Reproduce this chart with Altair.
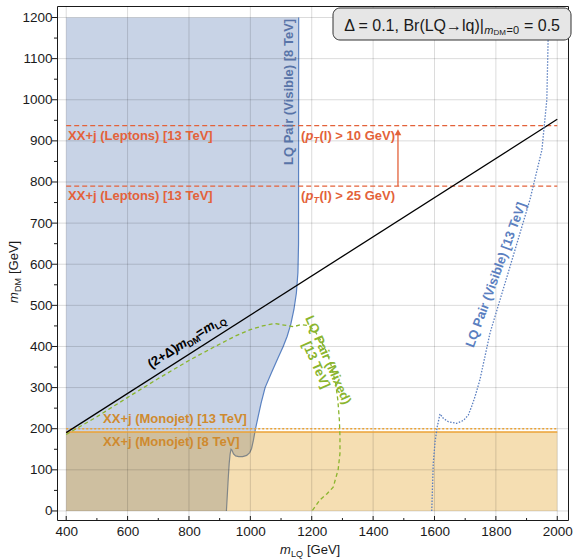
import altair as alt
import pandas as pd

FONT = "Liberation Sans"
XDOM = [370, 2035]
YDOM = [-22, 1228]
W, H = 511, 514

# ---------------- data ----------------
x_labels = [400, 600, 800, 1000, 1200, 1400, 1600, 1800, 2000]
y_labels = [0, 100, 200, 300, 400, 500, 600, 700, 800, 900, 1000, 1100, 1200]
x_minor = [500, 700, 900, 1100, 1300, 1500, 1700, 1900]
y_minor = [50, 150, 250, 350, 450, 550, 650, 750, 850, 950, 1050, 1150]

# LQ pair (visible) 8 TeV exclusion boundary
lq8_x = [922, 925, 928, 931, 934, 937, 940, 945, 952, 962, 975, 988, 998, 1004, 1010,
         1016, 1025, 1035, 1048, 1068, 1090, 1107, 1120, 1132, 1142, 1150, 1155, 1157, 1157.5]
lq8_y = [0, 40, 80, 115, 138, 150, 148, 139, 134, 132, 132, 135, 142, 152, 172,
         197, 228, 262, 300, 335, 372, 400, 425, 455, 490, 530, 580, 650, 1200]
lq8_top = 1200
lq8_left = 400

# Monojet
mono_x = [400, 2000]
mono8_y = 192
mono13_y = 200

# Leptons
lep_x = [400, 2000]
lep_y = [937, 790]
arrow_x = 1481
arrow_y = [790, 921]

# (2+Delta) m_DM = m_LQ
diag_x = [400, 2000]
diag_y = [190.5, 952.4]

# LQ pair (mixed) 13 TeV
mix_x = [400, 500, 600, 700, 800, 880, 950, 1000, 1040, 1080, 1110, 1140, 1165, 1190, 1210,
         1230, 1250, 1265, 1278, 1285, 1290, 1292, 1292, 1286, 1270, 1250, 1227, 1201]
mix_y = [186, 229, 276, 322, 366, 398, 425, 441, 450, 456, 452, 448, 453, 451, 438,
         414, 384, 350, 310, 270, 222, 180, 140, 100, 58, 42, 27, 0]

# LQ pair (visible) 13 TeV
vis_x = [1591, 1596, 1602, 1609, 1618, 1629, 1645, 1672, 1694, 1710, 1721, 1732, 1748,
         1781, 1846, 1911, 1950, 1966, 1970, 1972]
vis_y = [0, 116, 169, 205, 236, 225, 217, 213, 220, 233, 254, 278, 319,
         433, 594, 757, 878, 1000, 1139, 1200]

# ---------------- colours ----------------
C_BLUE_FILL = "#c8d3e6"
C_BLUE_LINE = "#5a82c2"
C_ORANGE = "#de9100"
C_ORANGE_LINE = "#eba234"
C_RED = "#e3623a"
C_GREEN = "#8ab52e"
C_VIS13 = "#5b7fc0"
C_TEXT_BLUE = "#5874a8"
C_MONO_TEXT = "#cf8a2e"
C_AX = "#1a1a1a"

xs = alt.Scale(domain=XDOM, nice=False, zero=False)
ys = alt.Scale(domain=YDOM, nice=False, zero=False)

AX_X = alt.Axis(values=x_labels, format="d", labelFont=FONT, labelFontSize=13.5,
                labelColor=C_AX, ticks=False, domain=False, grid=False, labelPadding=4,
                labelFlush=False, title="")
AX_Y = alt.Axis(values=y_labels, format="d", labelFont=FONT, labelFontSize=13.5,
                labelColor=C_AX, ticks=False, domain=False, grid=False, labelPadding=5,
                labelFlush=False, title="")


def X(f="x"):
    return alt.X(f"{f}:Q", scale=xs, axis=AX_X, title="")


def Y(f="y"):
    return alt.Y(f"{f}:Q", scale=ys, axis=AX_Y, title="", stack=False)


def label(x, y, s, color, size=13, bold=True, italic=False, angle=0,
          align="left", baseline="alphabetic", dx=0, dy=0):
    df = pd.DataFrame({"x": [x], "y": [y], "t": [s]})
    return alt.Chart(df).mark_text(
        font=FONT, fontSize=size, color=color, align=align, baseline=baseline,
        dx=dx, dy=dy, angle=angle,
        fontWeight="bold" if bold else "normal",
        fontStyle="italic" if italic else "normal",
    ).encode(x=X(), y=Y(), text="t:N")


def plabel(px, py, s, color=C_AX, size=13, bold=False, italic=False, angle=0,
           align="left", baseline="alphabetic", dx=0, dy=0):
    df = pd.DataFrame({"t": [s]})
    return alt.Chart(df).mark_text(
        font=FONT, fontSize=size, color=color, align=align, baseline=baseline,
        dx=dx, dy=dy, angle=angle,
        fontWeight="bold" if bold else "normal",
        fontStyle="italic" if italic else "normal",
    ).encode(x=alt.value(px), y=alt.value(py), text="t:N")


layers = []

# Blue region (LQ pair visible 8 TeV)
area_df = pd.DataFrame({
    "x": [lq8_left] + lq8_x,
    "y": [0] + lq8_y,
    "top": [lq8_top] * (len(lq8_x) + 1),
})
layers.append(
    alt.Chart(area_df).mark_area(color=C_BLUE_FILL, opacity=1).encode(
        x=X(), y=Y(), y2="top:Q")
)
lq8_df = pd.DataFrame({"x": lq8_x, "y": lq8_y, "i": list(range(len(lq8_x)))})
layers.append(
    alt.Chart(lq8_df).mark_line(color=C_BLUE_LINE, strokeWidth=1.2).encode(
        x=X(), y=Y(), order="i:Q")
)

# Orange region (monojet 8 TeV), semi transparent
mono_df = pd.DataFrame({"x": [mono_x[0]], "x2": [mono_x[1]], "y": [0], "y2": [mono8_y]})
layers.append(
    alt.Chart(mono_df).mark_rect(color=C_ORANGE, opacity=0.3).encode(
        x=X(), x2="x2:Q", y=Y(), y2="y2:Q")
)

# Grid
layers.append(
    alt.Chart(pd.DataFrame({"x": x_labels})).mark_rule(color="#000", opacity=0.14, strokeWidth=1)
    .encode(x=X())
)
layers.append(
    alt.Chart(pd.DataFrame({"y": y_labels})).mark_rule(color="#000", opacity=0.14, strokeWidth=1)
    .encode(y=Y())
)

# Monojet lines
layers.append(
    alt.Chart(pd.DataFrame({"x": [mono_x[0]], "x2": [mono_x[1]], "y": [mono8_y]}))
    .mark_rule(color=C_ORANGE_LINE, strokeWidth=1.6)
    .encode(x=X(), x2="x2:Q", y=Y())
)
layers.append(
    alt.Chart(pd.DataFrame({"x": [mono_x[0]], "x2": [mono_x[1]], "y": [mono13_y]}))
    .mark_rule(color=C_ORANGE_LINE, strokeWidth=1.4, strokeDash=[2, 2])
    .encode(x=X(), x2="x2:Q", y=Y())
)

# Lepton lines
layers.append(
    alt.Chart(pd.DataFrame({"x": [lep_x[0]] * 2, "x2": [lep_x[1]] * 2, "y": lep_y}))
    .mark_rule(color=C_RED, strokeWidth=1.1, strokeDash=[5, 3])
    .encode(x=X(), x2="x2:Q", y=Y())
)

# Diagonal line
layers.append(
    alt.Chart(pd.DataFrame({"x": diag_x, "y": diag_y}))
    .mark_line(color="#000", strokeWidth=1.3)
    .encode(x=X(), y=Y())
)

# Mixed 13 TeV (green dashed)
mix_df = pd.DataFrame({"x": mix_x, "y": mix_y, "i": list(range(len(mix_x)))})
layers.append(
    alt.Chart(mix_df).mark_line(color=C_GREEN, strokeWidth=1.3, strokeDash=[4, 3])
    .encode(x=X(), y=Y(), order="i:Q")
)

# Visible 13 TeV (blue dotted)
vis_df = pd.DataFrame({"x": vis_x, "y": vis_y, "i": list(range(len(vis_x)))})
layers.append(
    alt.Chart(vis_df).mark_line(color=C_VIS13, strokeWidth=1.3, strokeDash=[1.5, 1.5])
    .encode(x=X(), y=Y(), order="i:Q")
)

# Arrow
layers.append(
    alt.Chart(pd.DataFrame({"x": [arrow_x], "y": [arrow_y[0]], "y2": [arrow_y[1]]}))
    .mark_rule(color=C_RED, strokeWidth=1.3)
    .encode(x=X(), y=Y(), y2="y2:Q")
)
layers.append(
    alt.Chart(pd.DataFrame({"x": [arrow_x], "y": [arrow_y[1]]}))
    .mark_point(shape="triangle-up", filled=True, size=45, color=C_RED, opacity=1)
    .encode(x=X(), y=Y())
)

# ---------------- text labels ----------------
layers.append(label(406, 903, "XX+j (Leptons) [13 TeV]", C_RED))
layers.append(label(406, 757, "XX+j (Leptons) [13 TeV]", C_RED))
for yy, val in [(903, "10"), (757, "25")]:
    layers.append(label(1165, yy, "(", C_RED))
    layers.append(label(1165, yy, "p", C_RED, italic=True, dx=4.5))
    layers.append(label(1165, yy, "T", C_RED, size=9, italic=True, dx=12.5, dy=3))
    layers.append(label(1165, yy, f"(l) > {val} GeV)", C_RED, dx=18.5))

layers.append(label(520, 213, "XX+j (Monojet) [13 TeV]", C_MONO_TEXT))
layers.append(label(520, 157, "XX+j (Monojet) [8 TeV]", C_MONO_TEXT))

# (2+Δ) m_DM = m_LQ
ang = 327.5
layers.append(label(677, 346, "(2+Δ)", "#000", angle=ang))
layers.append(label(677, 346, "m", "#000", italic=True, angle=ang, dx=32))
layers.append(label(677, 346, "DM", "#000", size=9, angle=ang, dx=43.5, dy=3))
layers.append(label(677, 346, "=", "#000", angle=ang, dx=57))
layers.append(label(677, 346, "m", "#000", italic=True, angle=ang, dx=65))
layers.append(label(677, 346, "LQ", "#000", size=9, angle=ang, dx=76.5, dy=3))

layers.append(label(1126, 1019, "LQ Pair (Visible) [8 TeV]", C_TEXT_BLUE,
                    angle=270, align="center", baseline="middle"))
layers.append(label(1800, 574, "LQ Pair (Visible) [13 TeV]", C_VIS13,
                    angle=290, align="center", baseline="middle"))
layers.append(label(1253, 367, "LQ Pair (Mixed)", C_GREEN,
                    angle=66, align="center", baseline="middle"))
layers.append(label(1214, 355, "[13 TeV]", C_GREEN,
                    angle=66, align="center", baseline="middle"))

# ---------------- ticks ----------------
layers.append(
    alt.Chart(pd.DataFrame({"x": x_labels})).mark_rule(color=C_AX, strokeWidth=1)
    .encode(x=X(), y=alt.value(H), y2=alt.value(H - 4))
)
layers.append(
    alt.Chart(pd.DataFrame({"x": x_minor})).mark_rule(color=C_AX, strokeWidth=1)
    .encode(x=X(), y=alt.value(H), y2=alt.value(H - 2))
)
layers.append(
    alt.Chart(pd.DataFrame({"y": y_labels})).mark_rule(color=C_AX, strokeWidth=1)
    .encode(y=Y(), x=alt.value(-5), x2=alt.value(0))
)
layers.append(
    alt.Chart(pd.DataFrame({"y": y_minor})).mark_rule(color=C_AX, strokeWidth=1)
    .encode(y=Y(), x=alt.value(-3), x2=alt.value(0))
)

# ---------------- info box ----------------
layers.append(
    alt.Chart(pd.DataFrame({"t": [""]})).mark_rect(
        fill="#e6e6e6", stroke="#333", strokeWidth=1, cornerRadius=7)
    .encode(x=alt.value(276), x2=alt.value(514), y=alt.value(2), y2=alt.value(34))
)
layers.append(plabel(503, 25, "= 0.5", size=16, align="right"))
layers.append(plabel(462, 27.8, "=0", size=11, align="right"))
layers.append(plabel(449, 28.8, "DM", size=8, align="right"))
layers.append(plabel(436.5, 27.8, "m", size=11, italic=True, align="right"))
layers.append(plabel(427, 25, "Δ = 0.1, Br(LQ→lq)|", size=16, align="right"))

# ---------------- axis titles ----------------
layers.append(plabel(223, 548, "m", size=13, italic=True))
layers.append(plabel(234, 551, "LQ", size=9))
layers.append(plabel(250, 548, "[GeV]", size=13))

layers.append(plabel(-39, 297, "m", size=13, italic=True, angle=270))
layers.append(plabel(-36, 286, "DM", size=9, angle=270))
layers.append(plabel(-39, 268, "[GeV]", size=13, angle=270))

chart = alt.layer(*layers).properties(
    width=W, height=H,
    autosize=alt.AutoSizeParams(type="none"),
    padding={"left": 57, "top": 6, "right": 6, "bottom": 39},
).configure_view(stroke=C_AX, strokeWidth=1)

chart.save("out.html", embed_options={"renderer": "svg", "actions": False})
